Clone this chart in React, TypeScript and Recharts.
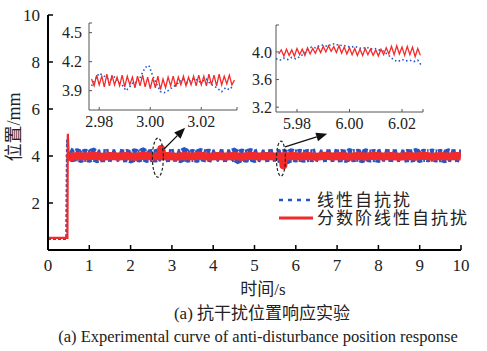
import React from 'react';
import { LineChart, Line, XAxis, YAxis, ReferenceDot, ReferenceLine } from 'recharts';

const SERIF = '"Liberation Serif", "Times New Roman", serif';
const MIXED = '"Liberation Serif", "Noto Sans CJK SC", serif';
const BLUE = '#2457c5';
const RED = '#f42a2a';

// ---- main chart data ----
const mainXTicks = [0, 1, 2, 3, 4, 5, 6, 7, 8, 9, 10];
const mainYTicks = [2, 4, 6, 8, 10];

const blueT = [
  0, 0.44, 0.46, 0.5,
  0.6, 0.7, 0.8, 0.9, 1.0, 1.1, 1.2, 1.3, 1.4, 1.5,
  1.6, 1.7, 1.8, 1.9, 2.0, 2.1, 2.2, 2.3, 2.4, 2.5,
  2.6, 2.7, 2.8, 2.9, 3.0, 3.1, 3.2, 3.3, 3.4, 3.5,
  3.6, 3.7, 3.8, 3.9, 4.0, 4.1, 4.2, 4.3, 4.4, 4.5,
  4.6, 4.7, 4.8, 4.9, 5.0, 5.1, 5.2, 5.3, 5.4, 5.5,
  5.6, 5.7, 5.8, 5.9, 6.0, 6.1, 6.2, 6.3, 6.4, 6.5,
  6.6, 6.7, 6.8, 6.9, 7.0, 7.1, 7.2, 7.3, 7.4, 7.5,
  7.6, 7.7, 7.8, 7.9, 8.0, 8.1, 8.2, 8.3, 8.4, 8.5,
  8.6, 8.7, 8.8, 8.9, 9.0, 9.1, 9.2, 9.3, 9.4, 9.5,
  9.6, 9.7, 9.8, 9.9, 10.0,
];
const blueV = [
  0.47, 0.47, 4.7, 4.1,
  4.02, 4.05, 3.99, 4.03, 4.0, 4.06, 3.98, 4.02, 4.01, 4.04,
  3.99, 4.05, 4.0, 4.02, 3.97, 4.04, 4.01, 4.07, 3.99, 4.02,
  4.0, 4.06, 3.98, 4.03, 4.01, 4.04, 3.99, 4.08, 4.0, 4.02,
  3.99, 4.05, 4.01, 4.03, 3.98, 4.05, 4.0, 4.03, 3.99, 4.06,
  3.96, 4.03, 4.0, 4.05, 3.99, 4.04, 3.98, 4.03, 4.01, 4.05,
  3.99, 4.02, 3.95, 4.04, 4.0, 4.03, 3.99, 4.02, 4.01, 4.05,
  3.98, 4.03, 4.0, 4.04, 4.0, 4.02, 3.99, 4.05, 4.01, 4.03,
  3.98, 4.04, 4.0, 4.02, 3.99, 4.05, 4.01, 4.03, 4.0, 4.04,
  3.98, 4.02, 4.0, 4.05, 3.99, 4.03, 4.01, 4.04, 4.0, 4.02,
  3.98, 4.04, 4.0, 4.03, 3.99,
];

const redT = [
  0, 0.47, 0.48, 0.5, 0.55,
  0.7, 0.9, 1.1, 1.3, 1.5, 1.7, 1.9, 2.1, 2.3, 2.5, 2.7,
  2.73, 2.74, 2.75,
  2.9, 3.1, 3.3, 3.5, 3.7, 3.9, 4.1, 4.3, 4.5, 4.7, 4.9, 5.1, 5.3, 5.5,
  5.69, 5.7, 5.71,
  5.9, 6.1, 6.3, 6.5, 6.7, 6.9, 7.1, 7.3, 7.5, 7.7, 7.9, 8.1, 8.3, 8.5, 8.7, 8.9, 9.1, 9.3, 9.5, 9.7, 9.9,
  10,
];
const redV = [
  0.52, 0.52, 4.95, 4.1, 3.95,
  4.0, 3.98, 4.01, 3.97, 4.0, 3.98, 4.0, 3.97, 4.01, 3.98, 3.99,
  3.99, 4.3, 3.99,
  4.0, 3.97, 4.0, 3.98, 4.01, 3.97, 4.0, 3.98, 4.0, 3.97, 4.01, 3.98, 4.0, 3.98,
  3.99, 3.6, 3.99,
  4.0, 3.98, 4.0, 3.97, 4.01, 3.98, 4.0, 3.97, 4.0, 3.98, 4.01, 3.98, 4.0, 3.97, 4.0, 3.98, 4.01, 3.97, 4.0, 3.98, 4.0,
  3.98,
];

// ---- inset 1 (2.98 .. 3.02) ----
const in1XTicks = [2.98, 3.0, 3.02, 3.034];
const in1YTicks = [3.9, 4.2, 4.5, 4.6];
const in1RedT = [
  2.977, 2.978, 2.979, 2.98, 2.981, 2.982, 2.983, 2.984, 2.985, 2.986,
  2.987, 2.988, 2.989, 2.99, 2.991, 2.992, 2.993, 2.994, 2.995, 2.996,
  2.997, 2.998, 2.999, 3.0, 3.001, 3.002, 3.003, 3.004, 3.005, 3.006,
  3.007, 3.008, 3.009, 3.01, 3.011, 3.012, 3.013, 3.014, 3.015, 3.016,
  3.017, 3.018, 3.019, 3.02, 3.021, 3.022, 3.023, 3.024, 3.025, 3.026,
  3.027, 3.028, 3.029, 3.03, 3.031, 3.032, 3.033,
];
const in1RedV = [
  4.02, 3.95, 4.06, 3.96, 4.05, 3.94, 4.07, 3.95, 4.06, 3.96,
  4.04, 3.95, 4.06, 3.94, 4.05, 3.96, 4.04, 3.93, 4.05, 3.95,
  4.06, 3.94, 4.04, 3.92, 4.03, 3.93, 4.05, 3.91, 4.02, 3.93,
  4.04, 3.95, 4.05, 3.94, 4.04, 3.96, 4.05, 3.95, 4.04, 3.96,
  4.05, 3.95, 4.06, 3.96, 4.05, 3.95, 4.07, 3.96, 4.06, 3.95,
  4.07, 3.96, 4.05, 3.97, 4.06, 3.96, 4.01,
];
const in1BlueT = [
  2.977, 2.9785, 2.98, 2.9815, 2.983, 2.9845, 2.986, 2.9875, 2.989, 2.9905,
  2.992, 2.9935, 2.995, 2.9965, 2.998, 2.9995, 3.001, 3.0025, 3.004, 3.0055,
  3.007, 3.0085, 3.01, 3.0115, 3.013, 3.0145, 3.016, 3.0175, 3.019, 3.0205,
  3.022, 3.0235, 3.025, 3.0265, 3.028, 3.0295, 3.031, 3.0325,
];
const in1BlueV = [
  3.95, 4.02, 4.08, 4.06, 4.03, 4.01, 4.04, 3.99, 3.96, 3.9,
  3.94, 3.99, 3.98, 4.06, 4.14, 4.16, 4.05, 3.97, 3.89, 3.88,
  3.9, 3.93, 3.96, 3.99, 4.02, 3.98, 4.01, 4.03, 3.99, 4.0,
  4.02, 3.97, 3.95, 3.92, 3.89, 3.93, 3.91, 3.95,
];

// ---- inset 2 (5.98 .. 6.02) ----
const in2XTicks = [5.98, 6.0, 6.02, 6.028];
const in2YTicks = [3.2, 3.6, 4.0, 4.39];
const in2RedT = [
  5.973, 5.974, 5.975, 5.976, 5.977, 5.978, 5.979, 5.98, 5.981, 5.982,
  5.983, 5.984, 5.985, 5.986, 5.987, 5.988, 5.989, 5.99, 5.991, 5.992,
  5.993, 5.994, 5.995, 5.996, 5.997, 5.998, 5.999, 6.0, 6.001, 6.002,
  6.003, 6.004, 6.005, 6.006, 6.007, 6.008, 6.009, 6.01, 6.011, 6.012,
  6.013, 6.014, 6.015, 6.016, 6.017, 6.018, 6.019, 6.02, 6.021, 6.022,
  6.023, 6.024, 6.025, 6.026, 6.027,
];
const in2RedV = [
  3.97, 4.03, 3.94, 4.04, 3.95, 4.03, 3.94, 4.05, 3.96, 4.04,
  3.95, 4.06, 3.97, 4.05, 3.98, 4.07, 3.99, 4.08, 4.0, 4.09,
  4.01, 4.08, 3.99, 4.09, 3.98, 4.07, 3.97, 4.06, 3.96, 4.05,
  3.95, 4.04, 3.95, 4.05, 3.96, 4.04, 3.95, 4.03, 3.94, 4.04,
  3.96, 4.06, 3.97, 4.08, 3.96, 4.09, 3.97, 4.07, 3.95, 4.08,
  3.96, 4.07, 3.93, 4.05, 3.95,
];
const in2BlueT = [
  5.972, 5.9735, 5.975, 5.9765, 5.978, 5.9795, 5.981, 5.9825, 5.984, 5.9855,
  5.987, 5.9885, 5.99, 5.9915, 5.993, 5.9945, 5.996, 5.9975, 5.999, 6.0005,
  6.002, 6.0035, 6.005, 6.0065, 6.008, 6.0095, 6.011, 6.0125, 6.014, 6.0155,
  6.017, 6.0185, 6.02, 6.0215, 6.023, 6.0245, 6.026, 6.0275,
];
const in2BlueV = [
  3.9, 3.88, 3.91, 3.89, 3.92, 3.9, 3.93, 3.97, 4.03, 4.07,
  4.06, 4.09, 4.1, 4.08, 4.11, 4.12, 4.09, 4.1, 4.08, 4.07,
  4.08, 4.06, 4.05, 4.07, 4.04, 4.05, 4.03, 4.02, 3.98, 3.93,
  3.88, 3.86, 3.89, 3.87, 3.88, 3.86, 3.88, 3.8,
];

const zip = (t: number[], v: number[]) => t.map((x, i) => ({ t: x, v: v[i] }));

const blueData = zip(blueT, blueV);
const blueStep = blueData.slice(0, 4);
const blueBand = blueData.slice(3);
const redData = zip(redT, redV);
const redStep = redData.slice(0, 4);
const redBand = redData.slice(3);

// serif tick text, formatted by the caller
const SerifTick = ({ x, y, payload, textAnchor, orientation, fmt, size }: any) => {
  const label = fmt(payload.value, payload.index);
  const dy = orientation === 'bottom' ? '0.71em' : '0.355em';
  return (
    <text x={x} y={y} dy={dy} textAnchor={textAnchor} fill="#222" fontSize={size} style={{ fontFamily: SERIF }}>
      {label}
    </text>
  );
};

const Ellipse = ({ cx, cy, rx, ry }: any) => (
  <ellipse cx={cx} cy={cy} rx={rx} ry={ry} fill="none" stroke="#222" strokeWidth={1.2} strokeDasharray="3 2" />
);

const Arrow = ({ x1, y1, x2, y2 }: any) => {
  const a = Math.atan2(y2 - y1, x2 - x1);
  const len = 11;
  const w = 4.5;
  const bx = x2 - len * Math.cos(a);
  const by = y2 - len * Math.sin(a);
  const px = -Math.sin(a) * w;
  const py = Math.cos(a) * w;
  return (
    <g>
      <line x1={x1} y1={y1} x2={bx} y2={by} stroke="#111" strokeWidth={1.3} />
      <polygon points={`${x2},${y2} ${bx + px},${by + py} ${bx - px},${by - py}`} fill="#111" />
    </g>
  );
};

const Inset = ({ left, top, yWidth, right, xDomain, yDomain, xTicks, yTicks, red, blue, yMargin }: any) => (
  <div style={{ position: 'absolute', left, top }}>
    <LineChart width={210} height={130} margin={{ top: 13, right, left: 0, bottom: 0 }}>
      <XAxis
        type="number"
        dataKey="t"
        domain={xDomain}
        ticks={xTicks}
        interval={0}
        allowDataOverflow
        height={30}
        axisLine={{ stroke: '#555', strokeWidth: 1 }}
        tickLine={{ stroke: '#555' }}
        tickSize={-3}
        tickMargin={9}
        tick={(p: any) => (
          <SerifTick {...p} orientation="bottom" size={16}
            fmt={(v: number) => (v === xTicks[xTicks.length - 1] ? '' : v.toFixed(2))} />
        )}
      />
      <YAxis
        type="number"
        domain={yDomain}
        ticks={yTicks}
        interval={0}
        allowDataOverflow
        width={yWidth}
        axisLine={{ stroke: '#555', strokeWidth: 1 }}
        tickLine={{ stroke: '#555' }}
        tickSize={-3}
        tickMargin={yMargin}
        tick={(p: any) => (
          <SerifTick {...p} orientation="left" size={16}
            fmt={(v: number) => (v === yTicks[yTicks.length - 1] ? '' : v.toFixed(1))} />
        )}
      />
      <Line data={blue} dataKey="v" stroke={BLUE} strokeWidth={1.6} strokeDasharray="1.5 2.5" dot={false} isAnimationActive={false} />
      <Line data={red} dataKey="v" stroke={RED} strokeWidth={1.3} dot={false} isAnimationActive={false} />
    </LineChart>
  </div>
);

const abs = (left: number, top: number, extra: any = {}) => ({
  position: 'absolute' as const,
  left,
  top,
  whiteSpace: 'nowrap' as const,
  color: '#222',
  lineHeight: 1,
  ...extra,
});

export default function App() {
  return (
    <div style={{ position: 'absolute', left: 0, top: 0, width: 487, height: 351, background: '#fff', overflow: 'hidden', fontFamily: SERIF }}>
      <LineChart width={487} height={351} margin={{ top: 15, right: 26, left: 0, bottom: 71 }}>
        <XAxis
          type="number"
          dataKey="t"
          domain={[0, 10]}
          ticks={mainXTicks}
          interval={0}
          allowDataOverflow
          height={30}
          axisLine={{ stroke: '#000', strokeWidth: 2 }}
          tickLine={{ stroke: '#000', strokeWidth: 1.5 }}
          tickSize={-5}
          tickMargin={14}
          tick={(p: any) => <SerifTick {...p} orientation="bottom" size={17} fmt={(v: number) => String(v)} />}
        />
        <YAxis
          type="number"
          domain={[0, 10]}
          ticks={mainYTicks}
          interval={0}
          allowDataOverflow
          width={48}
          axisLine={{ stroke: '#000', strokeWidth: 2 }}
          tickLine={{ stroke: '#000', strokeWidth: 1.5 }}
          tickSize={-5}
          tickMargin={13}
          tick={(p: any) => <SerifTick {...p} orientation="left" size={17} fmt={(v: number) => String(v)} />}
        />
        <Line data={blueStep} dataKey="v" stroke={BLUE} strokeWidth={2} strokeDasharray="3 2" dot={false} isAnimationActive={false} />
        <Line data={blueBand} dataKey="v" stroke={BLUE} strokeWidth={13} strokeDasharray="2.5 1.5" dot={false} isAnimationActive={false} />
        <Line data={redStep} dataKey="v" stroke={RED} strokeWidth={2.2} dot={false} isAnimationActive={false} />
        <Line data={redBand} dataKey="v" stroke={RED} strokeWidth={8} strokeLinejoin="round" dot={false} isAnimationActive={false} />
        <ReferenceDot x={2.66} y={3.93} r={1} shape={(p: any) => <Ellipse cx={p.cx} cy={p.cy} rx={5.5} ry={19.5} />} />
        <ReferenceDot x={5.64} y={3.89} r={1} shape={(p: any) => <Ellipse cx={p.cx} cy={p.cy} rx={4.5} ry={17.5} />} />
        <ReferenceLine segment={[{ x: 2.81, y: 4.3 }, { x: 3.32, y: 5.2 }]} shape={(p: any) => <Arrow {...p} />} />
        <ReferenceLine segment={[{ x: 5.74, y: 4.39 }, { x: 6.76, y: 4.95 }]} shape={(p: any) => <Arrow {...p} />} />
      </LineChart>

      <Inset
        left={40}
        top={10}
        yWidth={49}
        right={13}
        xDomain={[2.976, 3.034]}
        yDomain={[3.7, 4.6]}
        xTicks={in1XTicks}
        yTicks={in1YTicks}
        red={zip(in1RedT, in1RedV)}
        blue={zip(in1BlueT, in1BlueV)}
        yMargin={10}
      />
      <Inset
        left={230}
        top={12}
        yWidth={46}
        right={17}
        xDomain={[5.972, 6.028]}
        yDomain={[3.13, 4.39]}
        xTicks={in2XTicks}
        yTicks={in2YTicks}
        red={zip(in2RedT, in2RedV)}
        blue={zip(in2BlueT, in2BlueV)}
        yMargin={7}
      />

      {/* legend */}
      <div style={abs(279, 191, { fontFamily: MIXED, fontSize: 17, letterSpacing: 2 })}>
        <div style={{ display: 'flex', alignItems: 'center', height: 18 }}>
          <svg width={34} height={6}><line x1={0} y1={3} x2={34} y2={3} stroke={BLUE} strokeWidth={2.5} strokeDasharray="4 5" /></svg>
          <span style={{ marginLeft: 4 }}>线性自抗扰</span>
        </div>
        <div style={{ display: 'flex', alignItems: 'center', height: 18 }}>
          <svg width={34} height={6}><line x1={0} y1={3} x2={34} y2={3} stroke={RED} strokeWidth={3} /></svg>
          <span style={{ marginLeft: 4 }}>分数阶线性自抗扰</span>
        </div>
      </div>

      {/* axis titles and caption */}
      <div style={abs(14, 127, { fontFamily: MIXED, fontSize: 18, transform: 'translate(-50%, -50%) rotate(-90deg)' })}>位置/mm</div>
      <div style={abs(263, 289, { fontFamily: MIXED, fontSize: 17, transform: 'translate(-50%, -50%)' })}>时间/s</div>
      <div style={abs(262, 313, { fontFamily: MIXED, fontSize: 17, transform: 'translate(-50%, -50%)' })}>(a) 抗干扰位置响应实验</div>
      <div style={abs(258, 337, { fontFamily: SERIF, fontSize: 16.5, transform: 'translate(-50%, -50%)' })}>
        (a) Experimental curve of anti-disturbance position response
      </div>
    </div>
  );
}
